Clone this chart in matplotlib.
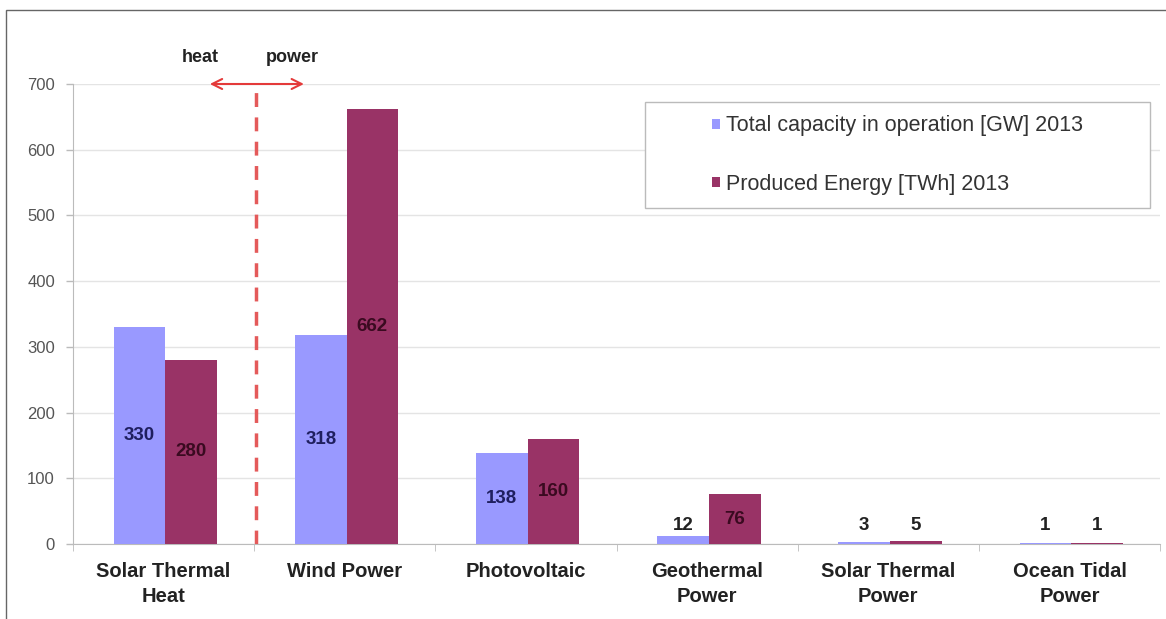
import matplotlib.pyplot as plt
import numpy as np
from matplotlib.patches import Rectangle

plt.rcParams['font.family'] = ['Liberation Sans', 'DejaVu Sans']

categories = ["Solar Thermal\nHeat", "Wind Power", "Photovoltaic",
              "Geothermal\nPower", "Solar Thermal\nPower", "Ocean Tidal\nPower"]
capacity = [330, 318, 138, 12, 3, 1]
energy = [280, 662, 160, 76, 5, 1]
series_names = ["Total capacity in operation [GW] 2013", "Produced Energy [TWh] 2013"]
yticks = [0, 100, 200, 300, 400, 500, 600, 700]

blue = "#9999ff"
maroon = "#993366"

fig = plt.figure(figsize=(11.66, 6.19), dpi=100)
ax = fig.add_axes([0.0626, 0.1212, 0.9323, 0.7431])

# outer frame
fig.patches.append(Rectangle((0.005, -0.01), 1.0, 0.994, transform=fig.transFigure,
                             fill=False, edgecolor="#666666", linewidth=1.0))

x = np.arange(len(categories))
w = 0.285
ax.bar(x - w / 2 + 0.01, capacity, w, color=blue, label=series_names[0], zorder=3)
ax.bar(x + w / 2 + 0.01, energy, w, color=maroon, label=series_names[1], zorder=3)

for xi, v in zip(x, capacity):
    col = "#1f1f5f" if v > 50 else "#222222"
    ax.text(xi - w / 2 + 0.01, max(v / 2, 28), str(v), ha="center", va="center",
            fontsize=13.5, fontweight="bold", color=col, zorder=4)
for xi, v in zip(x, energy):
    col = "#3a0a20" if v > 50 else "#222222"
    ax.text(xi + w / 2 + 0.01, max(v / 2, 28), str(v), ha="center", va="center",
            fontsize=13.5, fontweight="bold", color=col, zorder=4)

ax.set_xlim(-0.5, len(categories) - 0.5)
ax.set_ylim(0, 700)
ax.set_yticks(yticks)
ax.yaxis.grid(True, color="#e4e4e4", linewidth=1.0, zorder=0)
ax.tick_params(axis="y", labelsize=12, length=5, width=1, pad=8,
               colors="#bbbbbb", labelcolor="#555555")

ax.set_xticks(x)
ax.set_xticklabels(categories, fontsize=14.5, fontweight="bold", color="#222222",
                   linespacing=1.4)
ax.tick_params(axis="x", length=0, pad=13)
ax.set_xticks(np.arange(-0.5, len(categories)), minor=True)
ax.tick_params(axis="x", which="minor", length=5, color="#bbbbbb")

for s in ["top", "right"]:
    ax.spines[s].set_visible(False)
ax.spines["left"].set_color("#bbbbbb")
ax.spines["bottom"].set_color("#bbbbbb")

# heat / power divider
ax.plot([0.51, 0.51], [0, 690], linestyle=(0, (4, 3)), color="#e45a5a", linewidth=2.5, zorder=4)
ax.annotate("", xy=(0.24, 700), xytext=(0.79, 700),
            arrowprops=dict(arrowstyle="<->", color="#e43a3a", lw=1.5, mutation_scale=18),
            annotation_clip=False, zorder=5)
ax.text(0.2, 740, "heat", ha="center", va="center", fontsize=13, fontweight="bold",
        color="#222222", clip_on=False)
ax.text(0.71, 740, "power", ha="center", va="center", fontsize=13, fontweight="bold",
        color="#222222", clip_on=False)

# legend box drawn separately for its wide padding
ax.add_patch(Rectangle((0.526, 0.730), 0.465, 0.231, transform=ax.transAxes,
                       facecolor="white", edgecolor="#bbbbbb", linewidth=1.0, zorder=5))
leg = ax.legend(loc="center left", bbox_to_anchor=(0.578, 0.845), fontsize=15.5,
                handlelength=0.35, handleheight=0.35, handletextpad=0.3,
                labelspacing=1.75, borderpad=0, frameon=False, labelcolor="#333333")
leg.set_zorder(6)

fig.savefig("out.png", dpi=100)
